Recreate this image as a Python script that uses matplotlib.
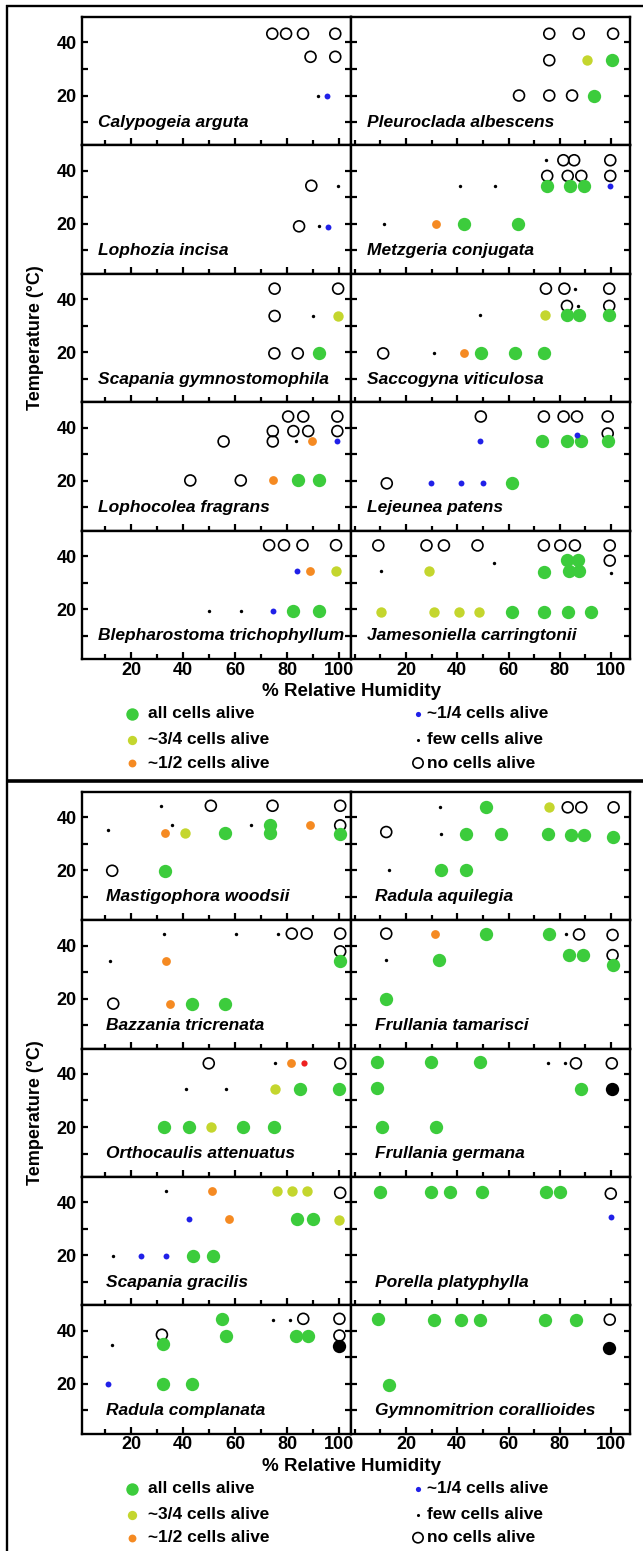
import matplotlib.pyplot as plt
from matplotlib.ticker import MultipleLocator

plt.rcParams['font.family'] = ['Liberation Sans', 'DejaVu Sans']

# each point: (% relative humidity, temperature in C, state of the cells)
calypogeia_arguta = [
    (74.2, 43.3, 'none'), (79.5, 43.3, 'none'), (86.0, 43.3, 'none'), (98.4, 43.3, 'none'),
    (88.9, 34.6, 'none'), (98.4, 34.6, 'none'),
    (91.6, 20.0, 'few'), (95.1, 20.0, '1/4'),
]
pleuroclada_albescens = [
    (75.9, 43.3, 'none'), (87.4, 43.3, 'none'), (100.8, 43.3, 'none'),
    (75.9, 33.3, 'none'), (90.6, 33.3, '3/4'), (100.5, 33.3, 'all'),
    (64.1, 20.0, 'none'), (75.9, 20.0, 'none'), (84.8, 20.0, 'none'), (93.4, 20.0, 'all'),
]
lophozia_incisa = [
    (89.2, 34.4, 'none'), (99.5, 34.4, 'few'),
    (84.5, 19.1, 'none'), (92.1, 19.1, 'few'), (95.6, 19.0, '1/4'),
]
metzgeria_conjugata = [
    (74.6, 44.1, 'few'), (81.4, 44.0, 'none'), (85.6, 44.0, 'none'), (99.7, 44.0, 'none'),
    (75.1, 38.1, 'none'), (83.1, 38.1, 'none'), (88.4, 38.1, 'none'), (99.7, 38.1, 'none'),
    (41.1, 34.4, 'few'), (54.8, 34.4, 'few'), (74.9, 34.4, 'all'), (83.9, 34.4, 'all'),
    (89.5, 34.4, 'all'), (99.7, 34.2, '1/4'),
    (11.4, 20.1, 'few'), (31.6, 20.1, '1/2'), (42.5, 20.1, 'all'), (63.6, 20.1, 'all'),
]
scapania_gymnostomophila = [
    (75.1, 44.0, 'none'), (99.5, 44.0, 'none'),
    (75.1, 33.7, 'none'), (89.7, 33.7, 'few'), (99.5, 33.7, '3/4'),
    (75.0, 19.6, 'none'), (84.0, 19.6, 'none'), (92.1, 19.6, 'all'),
]
saccogyna_viticulosa = [
    (74.6, 44.0, 'none'), (81.8, 44.0, 'none'), (86.0, 44.0, 'few'), (99.3, 44.0, 'none'),
    (82.8, 37.5, 'none'), (87.3, 37.3, 'few'), (99.3, 37.5, 'none'),
    (48.7, 33.9, 'few'), (74.2, 33.9, '3/4'), (82.8, 33.9, 'all'), (87.5, 33.9, 'all'),
    (99.3, 33.9, 'all'),
    (11.1, 19.6, 'none'), (30.9, 19.6, 'few'), (42.8, 19.6, '1/2'), (49.2, 19.6, 'all'),
    (62.4, 19.6, 'all'), (73.8, 19.6, 'all'),
]
lophocolea_fragrans = [
    (80.3, 44.2, 'none'), (86.1, 44.2, 'none'), (99.2, 44.2, 'none'),
    (74.4, 38.7, 'none'), (82.3, 38.7, 'none'), (88.0, 38.7, 'none'), (99.2, 38.7, 'none'),
    (55.5, 34.8, 'none'), (74.4, 34.8, 'none'), (83.3, 34.8, 'few'), (89.6, 34.8, '1/2'),
    (99.2, 34.8, '1/4'),
    (42.7, 20.1, 'none'), (62.1, 20.1, 'none'), (74.3, 20.1, '1/2'), (84.0, 20.1, 'all'),
    (92.3, 20.1, 'all'),
]
lejeunea_patens = [
    (49.2, 44.2, 'none'), (73.8, 44.2, 'none'), (81.5, 44.2, 'none'), (86.7, 44.2, 'none'),
    (98.7, 44.2, 'none'), (98.7, 37.8, 'none'), (86.7, 37.3, '1/4'),
    (48.8, 34.8, '1/4'), (73.1, 34.8, 'all'), (82.7, 34.8, 'all'), (88.3, 34.8, 'all'),
    (98.7, 34.8, 'all'),
    (12.5, 19.0, 'none'), (29.7, 19.0, '1/4'), (41.4, 19.0, '1/4'), (50.0, 19.0, '1/4'),
    (61.2, 19.0, 'all'),
]
blepharostoma_trichophyllum = [
    (73.0, 44.1, 'none'), (78.7, 44.1, 'none'), (85.8, 44.1, 'none'), (98.7, 44.1, 'none'),
    (83.7, 34.5, '1/4'), (88.8, 34.5, '1/2'), (98.6, 34.5, '3/4'),
    (49.9, 19.3, 'few'), (62.3, 19.3, 'few'), (74.3, 19.3, '1/4'), (82.3, 19.3, 'all'),
    (92.3, 19.3, 'all'),
]
jamesoniella_carringtonii = [
    (9.2, 44.0, 'none'), (28.0, 44.0, 'none'), (34.8, 44.0, 'none'), (47.9, 44.0, 'none'),
    (73.8, 44.0, 'none'), (80.2, 44.0, 'none'), (85.9, 44.0, 'none'), (99.5, 44.0, 'none'),
    (99.5, 38.3, 'none'), (54.5, 37.4, 'few'), (82.9, 38.5, 'all'), (87.2, 38.5, 'all'),
    (10.4, 34.5, 'few'), (29.1, 34.5, '3/4'), (73.8, 34.1, 'all'), (83.7, 34.2, 'all'),
    (87.5, 34.2, 'all'), (99.8, 33.5, 'few'),
    (10.1, 19.1, '3/4'), (30.9, 19.1, '3/4'), (40.8, 19.1, '3/4'), (48.3, 19.1, '3/4'),
    (61.5, 19.1, 'all'), (73.8, 19.1, 'all'), (83.1, 19.1, 'all'), (92.2, 19.1, 'all'),
]

mastigophora_woodsii = [
    (31.4, 44.3, 'few'), (50.6, 44.3, 'none'), (74.3, 44.3, 'none'), (100.3, 44.3, 'none'),
    (35.6, 36.9, 'few'), (65.9, 36.9, 'few'), (73.5, 36.9, 'all'), (88.8, 36.9, '1/2'),
    (100.3, 36.9, 'none'),
    (10.9, 35.0, 'few'), (33.1, 34.1, '1/2'), (40.7, 34.1, '3/4'), (56.0, 34.1, 'all'),
    (73.5, 33.9, 'all'), (100.3, 33.5, 'all'),
    (12.7, 19.8, 'none'), (33.1, 19.8, 'all'),
]
radula_aquilegia = [
    (33.1, 43.7, 'few'), (51.1, 43.7, 'all'), (75.9, 43.7, '3/4'), (83.1, 43.7, 'none'),
    (88.4, 43.7, 'none'), (101.0, 43.7, 'none'),
    (12.3, 34.4, 'none'), (33.6, 33.7, 'few'), (43.6, 33.7, 'all'), (57.0, 33.7, 'all'),
    (75.4, 33.7, 'all'), (84.4, 33.1, 'all'), (89.6, 33.1, 'all'), (100.6, 32.5, 'all'),
    (13.3, 20.0, 'few'), (33.6, 20.0, 'all'), (43.6, 20.0, 'all'),
]
bazzania_tricrenata = [
    (32.5, 44.5, 'few'), (60.4, 44.5, 'few'), (76.3, 44.3, 'few'), (81.7, 44.5, 'none'),
    (87.4, 44.5, 'none'), (100.3, 44.5, 'none'), (100.3, 37.8, 'none'),
    (12.0, 34.2, 'few'), (33.3, 34.2, '1/2'), (100.3, 34.2, 'all'),
    (13.1, 18.1, 'none'), (34.8, 18.1, '1/2'), (43.5, 18.1, 'all'), (56.1, 18.1, 'all'),
]
frullania_tamarisci = [
    (12.3, 44.5, 'none'), (31.5, 44.5, '1/2'), (51.1, 44.5, 'all'), (75.9, 44.3, 'all'),
    (82.3, 44.2, 'few'), (87.5, 44.2, 'none'), (100.6, 44.0, 'none'),
    (83.6, 36.4, 'all'), (89.0, 36.4, 'all'), (100.6, 36.4, 'none'), (100.6, 32.6, 'all'),
    (12.3, 34.5, 'few'), (32.8, 34.5, 'all'),
    (12.3, 19.7, 'all'),
]
orthocaulis_attenuatus = [
    (49.8, 44.0, 'none'), (75.4, 44.0, 'few'), (81.4, 44.0, '1/2'), (86.4, 44.0, 'red'),
    (100.3, 44.0, 'none'),
    (41.1, 34.4, 'few'), (56.3, 34.4, 'few'), (75.1, 34.4, '3/4'), (85.0, 34.4, 'all'),
    (100.0, 34.4, 'all'),
    (32.5, 20.0, 'all'), (42.3, 20.0, 'all'), (50.6, 20.0, '3/4'), (62.9, 20.0, 'all'),
    (74.8, 20.0, 'all'),
]
frullania_germana = [
    (8.8, 44.6, 'all'), (29.6, 44.6, 'all'), (48.7, 44.6, 'all'), (75.6, 44.0, 'few'),
    (81.9, 44.0, 'few'), (86.3, 44.0, 'none'), (100.3, 44.0, 'none'),
    (8.8, 34.6, 'all'), (88.4, 34.4, 'all'), (100.3, 34.4, 'black'),
    (10.7, 20.0, 'all'), (31.7, 20.0, 'all'),
]
scapania_gracilis = [
    (33.3, 44.2, 'few'), (50.9, 44.2, '1/2'), (76.0, 44.2, '3/4'), (81.9, 44.2, '3/4'),
    (87.7, 44.2, '3/4'), (100.3, 43.6, 'none'),
    (42.4, 33.7, '1/4'), (57.4, 33.7, '1/2'), (83.7, 33.7, 'all'), (89.7, 33.7, 'all'),
    (100.0, 33.4, '3/4'),
    (13.2, 19.6, 'few'), (23.8, 19.6, '1/4'), (33.3, 19.6, '1/4'), (43.8, 19.6, 'all'),
    (51.4, 19.6, 'all'),
]
porella_platyphylla = [
    (9.9, 44.0, 'all'), (29.6, 44.0, 'all'), (37.2, 44.0, 'all'), (49.5, 44.0, 'all'),
    (74.6, 43.8, 'all'), (80.2, 43.8, 'all'), (99.9, 43.3, 'none'),
    (99.9, 34.6, '1/4'),
]
radula_complanata = [
    (54.9, 44.5, 'all'), (74.6, 44.2, 'few'), (80.9, 44.2, 'few'), (86.1, 44.5, 'none'),
    (100.0, 44.5, 'none'),
    (31.8, 38.5, 'none'), (56.6, 38.2, 'all'), (83.3, 38.2, 'all'), (88.0, 38.2, 'all'),
    (100.0, 38.2, 'none'),
    (12.7, 34.8, 'few'), (32.1, 35.1, 'all'), (100.0, 34.1, 'black'),
    (11.2, 20.0, '1/4'), (32.1, 20.0, 'all'), (43.5, 20.0, 'all'),
]
gymnomitrion_corallioides = [
    (9.1, 44.4, 'all'), (30.9, 44.2, 'all'), (41.6, 44.2, 'all'), (48.7, 44.2, 'all'),
    (74.3, 44.0, 'all'), (86.3, 44.0, 'all'), (99.5, 44.2, 'none'),
    (99.2, 33.5, 'black'),
    (13.2, 19.7, 'all'),
]

top_species = [
    ('Calypogeia arguta', calypogeia_arguta),
    ('Pleuroclada albescens', pleuroclada_albescens),
    ('Lophozia incisa', lophozia_incisa),
    ('Metzgeria conjugata', metzgeria_conjugata),
    ('Scapania gymnostomophila', scapania_gymnostomophila),
    ('Saccogyna viticulosa', saccogyna_viticulosa),
    ('Lophocolea fragrans', lophocolea_fragrans),
    ('Lejeunea patens', lejeunea_patens),
    ('Blepharostoma trichophyllum', blepharostoma_trichophyllum),
    ('Jamesoniella carringtonii', jamesoniella_carringtonii),
]
bottom_species = [
    ('Mastigophora woodsii', mastigophora_woodsii),
    ('Radula aquilegia', radula_aquilegia),
    ('Bazzania tricrenata', bazzania_tricrenata),
    ('Frullania tamarisci', frullania_tamarisci),
    ('Orthocaulis attenuatus', orthocaulis_attenuatus),
    ('Frullania germana', frullania_germana),
    ('Scapania gracilis', scapania_gracilis),
    ('Porella platyphylla', porella_platyphylla),
    ('Radula complanata', radula_complanata),
    ('Gymnomitrion corallioides', gymnomitrion_corallioides),
]

legend_left = [('all', 'all cells alive'), ('3/4', '~3/4 cells alive'), ('1/2', '~1/2 cells alive')]
legend_right = [('1/4', '~1/4 cells alive'), ('few', 'few cells alive'), ('none', 'no cells alive')]

# marker look for each state
styles = {
    'none': dict(s=62, facecolors='none', edgecolors='black', linewidths=1.2),
    'all': dict(s=92, c='#3ccc3c', linewidths=0),
    '3/4': dict(s=56, c='#c4d62e', linewidths=0),
    '1/2': dict(s=40, c='#f58a22', linewidths=0),
    '1/4': dict(s=18, c='#2020e8', linewidths=0),
    'few': dict(s=6, c='black', linewidths=0),
    'red': dict(s=20, c='#ee2020', linewidths=0),
    'black': dict(s=92, c='black', linewidths=0),
}
legend_sizes = {'all': 80, '3/4': 45, '1/2': 32, '1/4': 14, 'few': 5, 'none': 55}

W, H = 643, 1551
fig = plt.figure(figsize=(W / 100, H / 100), dpi=100)

# background axes in pixel units for frame, labels and legend
bg = fig.add_axes([0, 0, 1, 1])
bg.set_xlim(0, W)
bg.set_ylim(H, 0)
bg.axis('off')
bg.plot([7, 7], [5, H], color='black', lw=1.7, solid_capstyle='butt')
bg.plot([6, W], [6, 6], color='black', lw=1.7, solid_capstyle='butt')
bg.plot([6, W], [781, 781], color='black', lw=2.6, solid_capstyle='butt')

COL_X = [(82, 351.4, (1.1, 104.6)), (351.4, 630, (-1.3, 107.4))]
ROW_H = 128.4
YLIM = (1.2, 49.6)


def px_rect(x0, y0, x1, y1):
    return [x0 / W, 1 - y1 / H, (x1 - x0) / W, (y1 - y0) / H]


def draw_panel(species, top, name_dx):
    for i, (name, pts) in enumerate(species):
        row, col = divmod(i, 2)
        x0, x1, xlim = COL_X[col]
        y0 = top + row * ROW_H
        ax = fig.add_axes(px_rect(x0, y0, x1, y0 + ROW_H))
        ax.set_xlim(*xlim)
        ax.set_ylim(*YLIM)
        for state in ['none', 'all', '3/4', '1/2', '1/4', 'red', 'black', 'few']:
            sel = [(x, y) for x, y, s in pts if s == state]
            if sel:
                ax.scatter([p[0] for p in sel], [p[1] for p in sel], clip_on=False,
                           zorder=3, **styles[state])
        for sp in ax.spines.values():
            sp.set_linewidth(1.7)
        ax.xaxis.set_major_locator(MultipleLocator(20))
        ax.xaxis.set_minor_locator(MultipleLocator(10))
        ax.yaxis.set_major_locator(MultipleLocator(20))
        ax.yaxis.set_minor_locator(MultipleLocator(10))
        ax.tick_params(axis='x', which='major', direction='in', length=5, width=1.6, pad=2,
                       labelsize=13, bottom=True, top=False, labelbottom=(row == 4))
        ax.tick_params(axis='x', which='minor', direction='in', length=3.5, width=1.6,
                       bottom=True, top=False)
        ax.tick_params(axis='y', which='both', direction='in', length=4.5, width=1.6, pad=4,
                       labelsize=13, left=True, right=True, labelleft=(col == 0))
        for lab in ax.get_xticklabels() + ax.get_yticklabels():
            lab.set_fontweight('bold')
        ax.set_xticks([20, 40, 60, 80, 100])
        ax.text(name_dx / (x1 - x0), 0.18, name, transform=ax.transAxes, ha='left',
                va='center', fontsize=12.5, fontweight='bold', fontstyle='italic')
    bottom = top + 5 * ROW_H
    bg.text(351, bottom + 33, '% Relative Humidity', ha='center', va='center',
            fontsize=13.5, fontweight='bold')
    bg.text(35, (top + bottom) / 2, 'Temperature (\u00b0C)', ha='center', va='center',
            rotation=90, fontsize=13, fontweight='bold')
    for j, ((st, lab_l), (st_r, lab_r)) in enumerate(zip(legend_left, legend_right)):
        yy = bottom + [55, 81, 104][j]
        st_l = dict(styles[st])
        st_l['s'] = legend_sizes[st]
        bg.scatter([132], [yy], **st_l)
        bg.text(148, yy, lab_l, ha='left', va='center', fontsize=12.5, fontweight='bold')
        st_r2 = dict(styles[st_r])
        st_r2['s'] = legend_sizes[st_r]
        bg.scatter([418], [yy], **st_r2)
        bg.text(427, yy, lab_r, ha='left', va='center', fontsize=12.5, fontweight='bold')


draw_panel(top_species, 17, 16)
draw_panel(bottom_species, 791.7, 24)

fig.savefig('out.png', dpi=100)
